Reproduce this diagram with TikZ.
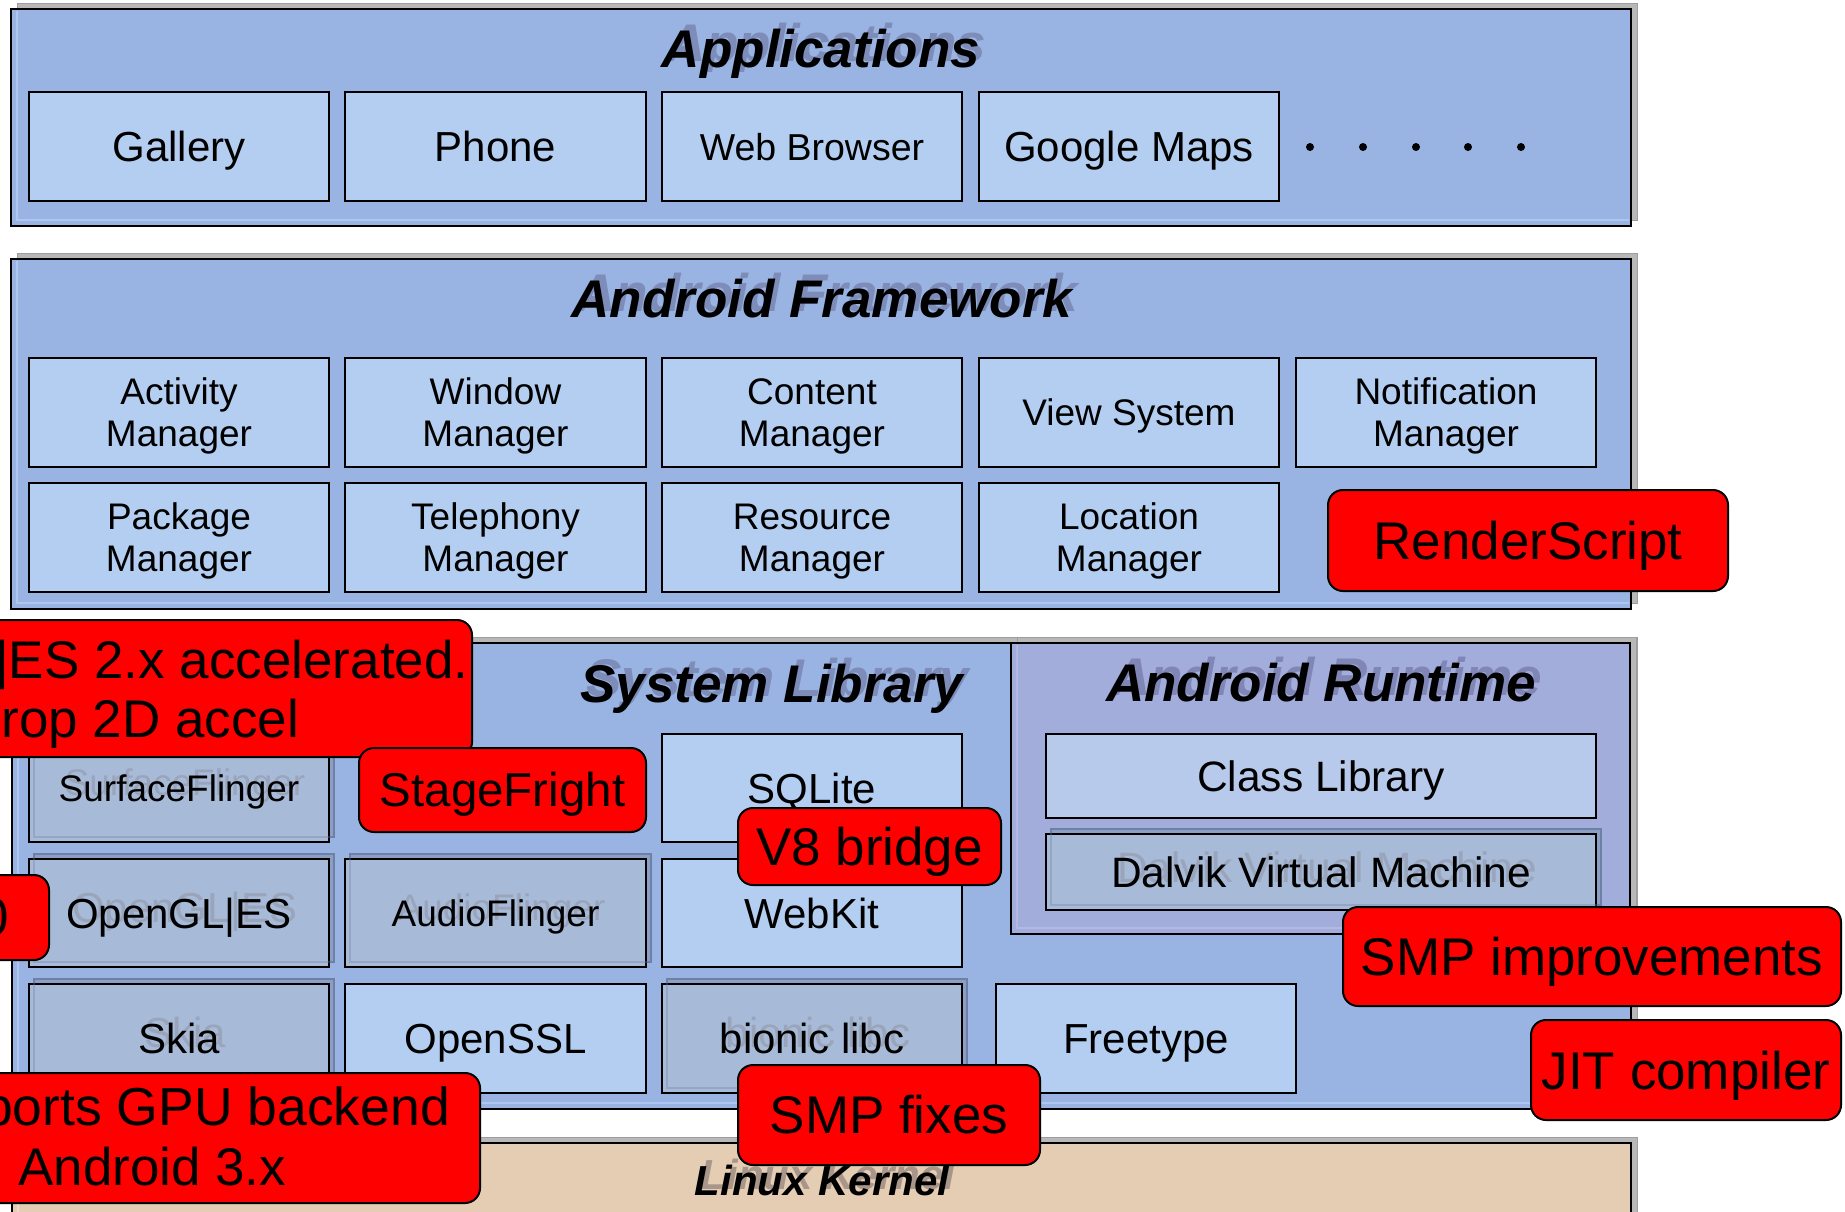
\documentclass[tikz,border=0pt]{standalone}
\usepackage{fontspec}
\setmainfont{Liberation Sans}
\definecolor{layerblue}{HTML}{99B4E2}
\definecolor{layerstripe}{HTML}{AEC7F1}
\definecolor{boxblue}{HTML}{B3CEF1}
\definecolor{boxgray}{HTML}{A7BBD8}
\definecolor{rtpurple}{HTML}{A3ADDB}
\definecolor{rtstripe}{HTML}{B2BAE4}
\definecolor{classblue}{HTML}{B8CAEC}
\definecolor{kerneltan}{HTML}{E5CDB3}
\definecolor{kernelstripe}{HTML}{EDDACA}
\definecolor{ghostblue}{HTML}{7D8CB9}
\definecolor{ghostpurple}{HTML}{8087B6}
\definecolor{ghostbrown}{HTML}{A8968A}
\definecolor{ghostgray}{HTML}{9AA5BB}
\definecolor{gshfill}{HTML}{8C9EC3}
\definecolor{gshline}{HTML}{6F80A6}
\newcommand{\myfs}[2]{\fontsize{#1}{#2}\selectfont}
\newcommand{\mltwo}[2]{\raisebox{0pt}[0pt][0pt]{\begin{tabular}[b]{@{}c@{}}#1\\#2\end{tabular}}}
\tikzset{
  lshadow/.style={fill=black!28, draw=black!38, line width=1pt},
  layerline/.style={draw=black, line width=2pt},
  appbox/.style={draw=black, line width=2pt, fill=boxblue},
  graybox/.style={draw=black, line width=2pt, fill=boxgray},
  gshadow/.style={fill=gshfill, draw=gshline, line width=2pt},
  redbox/.style={draw=black, line width=2pt, fill=red, rounded corners=15pt},
  lbl/.style={anchor=base, inner sep=0pt, text=black},
  lblL/.style={anchor=base west, inner sep=0pt, text=black},
  titlefont/.style={font=\myfs{53}{60}\bfseries\itshape},
  bigfont/.style={font=\myfs{42}{48}},
  midfont/.style={font=\myfs{37}{42}},
  redfont/.style={font=\myfs{53}{60}},
}
\newcommand{\drawlayer}[6]{%
  \draw[lshadow] (#1+6,#2-6) rectangle (#3+6,#4-6);
  \draw[layerline, fill=#5] (#1,#2) rectangle (#3,#4);
  \draw[#6, line width=2.5pt] (#1+6,#2+2) -- (#1+6,#4-6) -- (#3-2,#4-6);
  \draw[layerline] (#1,#2) rectangle (#3,#4);
}
\newcommand{\abox}[5]{\draw[appbox, fill=#5] (#1,#2) rectangle (#3,#4);}
\newcommand{\gbox}[4]{%
  \draw[gshadow] (#1+5,#2-5) rectangle (#3+5,#4-5);
  \draw[graybox] (#1,#2) rectangle (#3,#4);
  \draw[gshline, line width=1.5pt, opacity=0.35] (#1+5,#2-5) rectangle (#3+5,#4-5);
}
\begin{document}
\begin{tikzpicture}[x=1pt,y=-1pt]
\useasboundingbox (0,0) rectangle (1845,1211);
\clip (0,0) rectangle (1845,1211);
\fill[white] (0,0) rectangle (1845,1211);

% ---------- layers ----------
\drawlayer{11}{9}{1631}{226}{layerblue}{layerstripe}
\drawlayer{11}{259}{1631}{609}{layerblue}{layerstripe}
\drawlayer{12}{643}{1631}{1109}{layerblue}{layerstripe}
\drawlayer{1011}{643}{1630}{934}{rtpurple}{rtstripe}
\drawlayer{12}{1143}{1631}{1270}{kerneltan}{kernelstripe}

% ---------- titles ----------
\node[lbl, titlefont, text=ghostblue] (appsg) at (827,61) {Applications};
\node[lbl, titlefont] (apps) at (821,67) {Applications};
\node[lbl, titlefont, text=ghostblue] (fwg) at (828,311) {Android Framework};
\node[lbl, titlefont] (fw) at (822,317) {Android Framework};
\node[lbl, titlefont, text=ghostblue] (slg) at (778,696) {System Library};
\node[lbl, titlefont] (sl) at (772,702) {System Library};
\node[lbl, titlefont, text=ghostpurple] (rtg) at (1327,695) {Android Runtime};
\node[lbl, titlefont] (rt) at (1321,701) {Android Runtime};
\node[lbl, font=\myfs{42}{48}\bfseries\itshape, text=ghostbrown] (lkg) at (828,1189) {Linux Kernel};
\node[lbl, font=\myfs{42}{48}\bfseries\itshape] (lk) at (822,1195) {Linux Kernel};

% ---------- application boxes ----------
\abox{29}{92}{329}{201}{boxblue}
\abox{345}{92}{646}{201}{boxblue}
\abox{662}{92}{962}{201}{boxblue}
\abox{979}{92}{1279}{201}{boxblue}
\node[lbl, bigfont] (gallery) at (179,161.5) {Gallery};
\node[lbl, bigfont] (phone) at (495.5,161.5) {Phone};
\node[lbl, font=\myfs{37.5}{42}] (web) at (812,160) {Web Browser};
\node[lbl, bigfont] (maps) at (1129,161.5) {Google Maps};
\foreach \dx in {1310,1363,1416,1468,1521}
  \fill[black] (\dx,147) circle[radius=4pt];

% ---------- framework boxes ----------
\abox{29}{358}{329}{467}{boxblue}
\abox{345}{358}{646}{467}{boxblue}
\abox{662}{358}{962}{467}{boxblue}
\abox{979}{358}{1279}{467}{boxblue}
\abox{1296}{358}{1596}{467}{boxblue}
\abox{29}{483}{329}{592}{boxblue}
\abox{345}{483}{646}{592}{boxblue}
\abox{662}{483}{962}{592}{boxblue}
\abox{979}{483}{1279}{592}{boxblue}
\node[lbl, midfont] (actm) at (179,446.75) {\mltwo{Activity}{Manager}};
\node[lbl, midfont] (winm) at (495.5,446.75) {\mltwo{Window}{Manager}};
\node[lbl, midfont] (conm) at (812,446.75) {\mltwo{Content}{Manager}};
\node[lbl, midfont] (views) at (1129,425.75) {View System};
\node[lbl, midfont] (notm) at (1446,446.75) {\mltwo{Notification}{Manager}};
\node[lbl, midfont] (pkgm) at (179,571.75) {\mltwo{Package}{Manager}};
\node[lbl, midfont] (telm) at (495.5,571.75) {\mltwo{Telephony}{Manager}};
\node[lbl, midfont] (resm) at (812,571.75) {\mltwo{Resource}{Manager}};
\node[lbl, midfont] (locm) at (1129,571.75) {\mltwo{Location}{Manager}};

% ---------- system library boxes ----------
\gbox{29}{734}{329}{842}
\abox{662}{734}{962}{842}{boxblue}
\gbox{29}{859}{329}{967}
\gbox{345}{859}{646}{967}
\abox{662}{859}{962}{967}{boxblue}
\gbox{29}{984}{329}{1093}
\abox{345}{984}{646}{1093}{boxblue}
\gbox{662}{984}{962}{1093}
\abox{996}{984}{1296}{1093}{boxblue}
\node[lbl, midfont, text=ghostgray] (sfg) at (185,795) {SurfaceFlinger};
\node[lbl, midfont] (sf) at (179,801) {SurfaceFlinger};
\node[lbl, bigfont] (sqlite) at (812,803) {SQLite};
\node[lbl, bigfont, text=ghostgray] (oglg) at (185,922) {OpenGL|ES};
\node[lbl, bigfont] (ogl) at (179,928) {OpenGL|ES};
\node[lbl, midfont, text=ghostgray] (afg) at (501.5,920) {AudioFlinger};
\node[lbl, midfont] (af) at (495.5,926) {AudioFlinger};
\node[lbl, bigfont] (webkit) at (812,928) {WebKit};
\node[lbl, bigfont, text=ghostgray] (skiag) at (185,1047.5) {Skia};
\node[lbl, bigfont] (skia) at (179,1053.5) {Skia};
\node[lbl, bigfont] (openssl) at (495.5,1053.5) {OpenSSL};
\node[lbl, bigfont, text=ghostgray] (libcg) at (818,1047.5) {bionic libc};
\node[lbl, bigfont] (libc) at (812,1053.5) {bionic libc};
\node[lbl, bigfont] (freetype) at (1146,1053.5) {Freetype};

% ---------- runtime boxes ----------
\abox{1046}{734}{1596}{818}{classblue}
\gbox{1046}{834}{1596}{910}
\node[lbl, font=\myfs{42.5}{48}] (classlib) at (1321,791) {Class Library};
\node[lbl, font=\myfs{42.5}{48}, text=ghostgray] (dvmg) at (1327,882) {Dalvik Virtual Machine};
\node[lbl, font=\myfs{42.5}{48}] (dvm) at (1321,887) {Dalvik Virtual Machine};

% ---------- red annotations ----------
\draw[redbox] (-40,620) rectangle (472,757);
\node[lblL, redfont] (gles1) at (-5,678) {|ES 2.x accelerated.};
\node[lblL, redfont] (gles2) at (1.5,737) {rop 2D accel};

\draw[redbox] (359,748) rectangle (646,832);
\node[lbl, font=\myfs{47.5}{54}] (stage) at (502.5,806) {StageFright};

\draw[redbox] (738,808) rectangle (1001,885);
\node[lbl, redfont] (v8) at (869.5,865.5) {V8 bridge};

\draw[redbox] (-40,875) rectangle (49,960);
\node[lblL, redfont] (zero) at (-21,935) {0};

\draw[redbox] (1328,490) rectangle (1728,591);
\node[lbl, redfont] (rscript) at (1528,559) {RenderScript};

\draw[redbox] (1343,907) rectangle (1841,1006);
\node[lbl, redfont] (smpi) at (1592,975.5) {SMP improvements};

\draw[redbox] (1531,1020) rectangle (1841,1120);
\node[lbl, redfont] (jit) at (1686,1089) {JIT compiler};

\draw[redbox] (738,1065) rectangle (1040,1165);
\node[lbl, redfont] (smpf) at (889,1133) {SMP fixes};

\draw[redbox] (-40,1073) rectangle (480,1203);
\node[lblL, font=\myfs{53.5}{60}] (gpu1) at (-17,1125) {ports GPU backend};
\node[lblL, redfont] (gpu2) at (18,1185) {Android 3.x};
\end{tikzpicture}
\end{document}
